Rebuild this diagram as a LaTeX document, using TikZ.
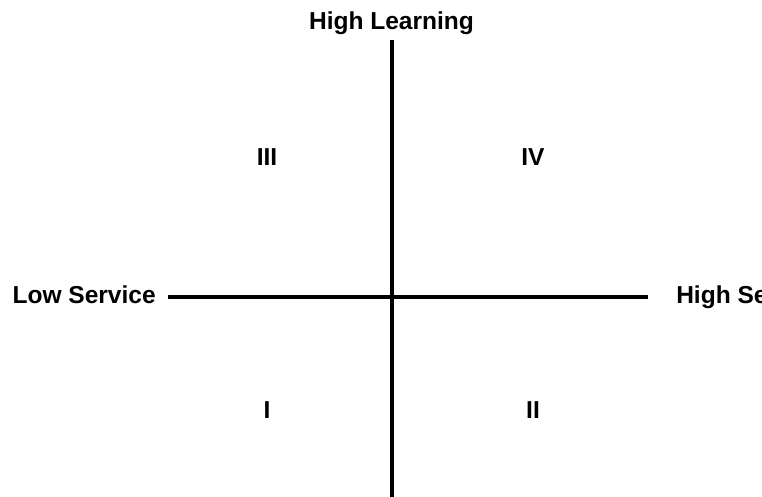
\documentclass[tikz,border=0pt]{standalone}
\usepackage{fontspec}
\setmainfont{Liberation Sans}
\begin{document}
\begin{tikzpicture}[x=0.75pt,y=-0.75pt,
  lbl/.style={font=\bfseries\fontsize{18.4}{20}\selectfont, inner sep=0pt},
  axis/.style={line width=3pt}]
\useasboundingbox (0,0) rectangle (762,496);
\clip (0,0) rectangle (762,496);
\fill[white] (0,0) rectangle (762,496);
\coordinate (top) at (392,40);
\coordinate (bot) at (392,497);
\coordinate (left) at (168,297);
\coordinate (right) at (648,297);
\draw[axis] (top) -- (bot);
\draw[axis] (left) -- (right);
\node[lbl, anchor=base] (hl) at (391.5,29) {High Learning};
\node[lbl, anchor=base east] (ls) at (156,303.5) {Low Service};
\node[lbl, anchor=base west] (hs) at (676,303.5) {High Service};
\node[lbl] (q3) at (267,157) {III};
\node[lbl] (q4) at (533,157) {IV};
\node[lbl] (q1) at (267,410) {I};
\node[lbl] (q2) at (533,410) {II};
\end{tikzpicture}
\end{document}
